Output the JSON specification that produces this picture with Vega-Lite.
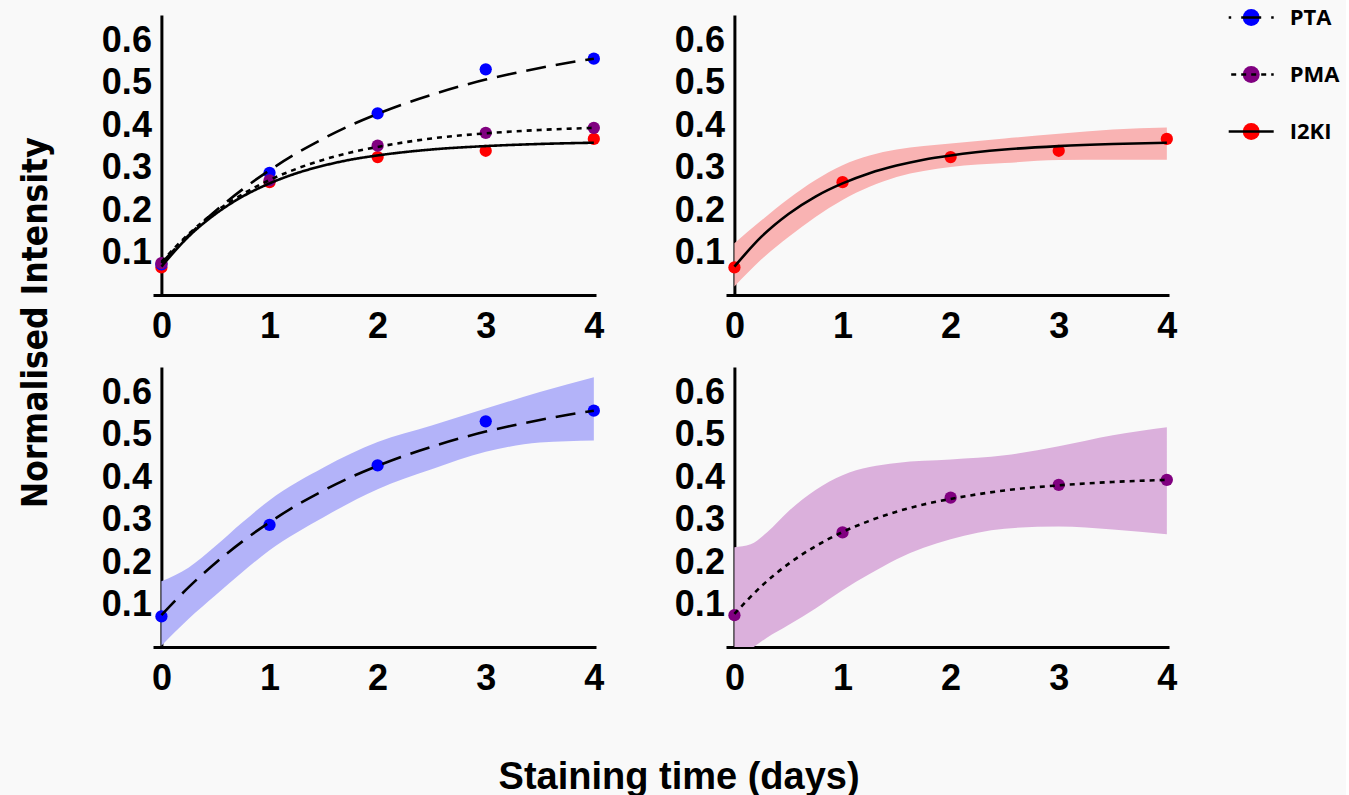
{
  "$schema": "https://vega.github.io/schema/vega-lite/v6.json",
  "background": "#f9f9f9",
  "padding": {"left": 18, "top": 6, "right": 5, "bottom": 0},
  "title": {"text": "Normalised Intensity", "orient": "left", "font": "DejaVu Sans Condensed", "fontSize": 35, "fontWeight": "bold", "color": "black", "offset": 47.5, "anchor": "middle", "dx": 79},
  "datasets": {
    "curves": [
      {"series": "PTA", "x": 0, "y": 0.075}, {"series": "PTA", "x": 0.25, "y": 0.1405}, {"series": "PTA", "x": 0.5, "y": 0.198}, {"series": "PTA", "x": 0.75, "y": 0.249},
      {"series": "PTA", "x": 1, "y": 0.294}, {"series": "PTA", "x": 1.25, "y": 0.334}, {"series": "PTA", "x": 1.5, "y": 0.369}, {"series": "PTA", "x": 1.75, "y": 0.4},
      {"series": "PTA", "x": 2, "y": 0.427}, {"series": "PTA", "x": 2.25, "y": 0.451}, {"series": "PTA", "x": 2.5, "y": 0.472}, {"series": "PTA", "x": 2.75, "y": 0.491},
      {"series": "PTA", "x": 3, "y": 0.508}, {"series": "PTA", "x": 3.25, "y": 0.522}, {"series": "PTA", "x": 3.5, "y": 0.535}, {"series": "PTA", "x": 3.75, "y": 0.547},
      {"series": "PTA", "x": 4, "y": 0.557},
      {"series": "PMA", "x": 0, "y": 0.078}, {"series": "PMA", "x": 0.25, "y": 0.1435}, {"series": "PMA", "x": 0.5, "y": 0.196}, {"series": "PMA", "x": 0.75, "y": 0.2375},
      {"series": "PMA", "x": 1, "y": 0.271}, {"series": "PMA", "x": 1.25, "y": 0.2975}, {"series": "PMA", "x": 1.5, "y": 0.319}, {"series": "PMA", "x": 1.75, "y": 0.336},
      {"series": "PMA", "x": 2, "y": 0.349}, {"series": "PMA", "x": 2.5, "y": 0.369}, {"series": "PMA", "x": 3, "y": 0.381}, {"series": "PMA", "x": 3.5, "y": 0.389},
      {"series": "PMA", "x": 4, "y": 0.394},
      {"series": "I2KI", "x": 0, "y": 0.067}, {"series": "I2KI", "x": 0.25, "y": 0.1375}, {"series": "I2KI", "x": 0.5, "y": 0.191}, {"series": "I2KI", "x": 0.75, "y": 0.232},
      {"series": "I2KI", "x": 1, "y": 0.263}, {"series": "I2KI", "x": 1.25, "y": 0.287}, {"series": "I2KI", "x": 1.5, "y": 0.305}, {"series": "I2KI", "x": 1.75, "y": 0.319},
      {"series": "I2KI", "x": 2, "y": 0.329}, {"series": "I2KI", "x": 2.5, "y": 0.343}, {"series": "I2KI", "x": 3, "y": 0.351}, {"series": "I2KI", "x": 3.5, "y": 0.356},
      {"series": "I2KI", "x": 4, "y": 0.359}
    ],
    "pts": [
      {"series": "I2KI", "x": 0, "y": 0.065}, {"series": "I2KI", "x": 1, "y": 0.266}, {"series": "I2KI", "x": 2, "y": 0.325}, {"series": "I2KI", "x": 3, "y": 0.34}, {"series": "I2KI", "x": 4, "y": 0.368},
      {"series": "PTA", "x": 0, "y": 0.072}, {"series": "PTA", "x": 1, "y": 0.288}, {"series": "PTA", "x": 2, "y": 0.428}, {"series": "PTA", "x": 3, "y": 0.532}, {"series": "PTA", "x": 4, "y": 0.557},
      {"series": "PMA", "x": 0, "y": 0.075}, {"series": "PMA", "x": 1, "y": 0.27}, {"series": "PMA", "x": 2, "y": 0.352}, {"series": "PMA", "x": 3, "y": 0.382}, {"series": "PMA", "x": 4, "y": 0.394}
    ],
    "bands": [
      {"series": "PTA", "x": 0, "lo": 0.003, "hi": 0.155}, {"series": "PTA", "x": 0.25, "lo": 0.066, "hi": 0.187}, {"series": "PTA", "x": 0.5, "lo": 0.122, "hi": 0.238},
      {"series": "PTA", "x": 0.75, "lo": 0.177, "hi": 0.294}, {"series": "PTA", "x": 1, "lo": 0.228, "hi": 0.346}, {"series": "PTA", "x": 1.5, "lo": 0.306, "hi": 0.423},
      {"series": "PTA", "x": 2, "lo": 0.372, "hi": 0.483}, {"series": "PTA", "x": 2.5, "lo": 0.419, "hi": 0.522}, {"series": "PTA", "x": 3, "lo": 0.46, "hi": 0.562},
      {"series": "PTA", "x": 3.5, "lo": 0.482, "hi": 0.601}, {"series": "PTA", "x": 4, "lo": 0.487, "hi": 0.636},
      {"series": "PMA", "x": 0, "lo": -0.03, "hi": 0.235}, {"series": "PMA", "x": 0.15, "lo": -0.005, "hi": 0.242}, {"series": "PMA", "x": 0.3, "lo": 0.022, "hi": 0.27},
      {"series": "PMA", "x": 0.5, "lo": 0.052, "hi": 0.32}, {"series": "PMA", "x": 0.75, "lo": 0.091, "hi": 0.37}, {"series": "PMA", "x": 1, "lo": 0.134, "hi": 0.405},
      {"series": "PMA", "x": 1.25, "lo": 0.172, "hi": 0.424}, {"series": "PMA", "x": 1.5, "lo": 0.207, "hi": 0.434}, {"series": "PMA", "x": 2, "lo": 0.254, "hi": 0.442},
      {"series": "PMA", "x": 2.5, "lo": 0.279, "hi": 0.452}, {"series": "PMA", "x": 3, "lo": 0.284, "hi": 0.473}, {"series": "PMA", "x": 3.5, "lo": 0.277, "hi": 0.499},
      {"series": "PMA", "x": 4, "lo": 0.266, "hi": 0.518},
      {"series": "I2KI", "x": 0, "lo": 0.02, "hi": 0.122}, {"series": "I2KI", "x": 0.25, "lo": 0.084, "hi": 0.176}, {"series": "I2KI", "x": 0.5, "lo": 0.137, "hi": 0.227},
      {"series": "I2KI", "x": 0.75, "lo": 0.184, "hi": 0.271}, {"series": "I2KI", "x": 1, "lo": 0.224, "hi": 0.306}, {"series": "I2KI", "x": 1.25, "lo": 0.255, "hi": 0.329},
      {"series": "I2KI", "x": 1.5, "lo": 0.278, "hi": 0.343}, {"series": "I2KI", "x": 2, "lo": 0.302, "hi": 0.357}, {"series": "I2KI", "x": 2.5, "lo": 0.311, "hi": 0.369},
      {"series": "I2KI", "x": 3, "lo": 0.318, "hi": 0.38}, {"series": "I2KI", "x": 3.5, "lo": 0.319, "hi": 0.39}, {"series": "I2KI", "x": 4, "lo": 0.319, "hi": 0.395}
    ]
  },
  "vconcat": [
    {
      "title": {"text": "Staining time (days)", "orient": "bottom", "font": "Liberation Sans", "fontSize": 38, "fontWeight": "bold", "color": "black", "offset": 63, "anchor": "middle", "dx": 40},
      "columns": 2,
      "spacing": {"row": 72, "column": 130},
      "bounds": "flush",
      "concat": [
        {
          "width": 443, "height": 280,
          "encoding": {
            "x": {"field": "x", "type": "quantitative", "scale": {"domain": [-0.078, 4.02], "nice": false, "zero": false}, "axis": {"values": [0, 1, 2, 3, 4], "format": "d", "title": null}}
          },
          "layer": [
            {
              "data": {"name": "pts"},
              "mark": {"type": "circle", "size": 150, "opacity": 1},
              "encoding": {
                "y": {"field": "y", "type": "quantitative", "scale": {"domain": [0, 0.66], "nice": false}, "axis": {"values": [0.1, 0.2, 0.3, 0.4, 0.5, 0.6], "format": ".1f", "title": null, "offset": -8.4}},
                "color": {"field": "series", "type": "nominal", "scale": {"domain": ["PTA", "PMA", "I2KI", "-"], "range": ["#0000ff", "#800080", "#ff0000", "#000000"]},
                  "legend": {"values": ["PTA", "PMA", "I2KI"], "orient": "none", "legendX": 1087.2, "legendY": -8.5, "title": null, "padding": 0, "symbolType": "circle", "symbolSize": 289, "symbolStrokeWidth": 0, "symbolOpacity": 1, "labelFont": "Open Sans", "labelFontSize": 22, "labelFontWeight": "bold", "labelOpacity": 0, "labelOffset": 27.5, "rowPadding": 35, "zindex": 1}}
              }
            },
            {
              "data": {"name": "curves"},
              "mark": {"type": "line", "interpolate": "monotone", "strokeWidth": 2.6, "color": "black"},
              "encoding": {
                "y": {"field": "y", "type": "quantitative", "scale": {"domain": [0, 0.66], "nice": false}, "axis": {"values": [0.1, 0.2, 0.3, 0.4, 0.5, 0.6], "format": ".1f", "title": null, "offset": -8.4}},
                "strokeDash": {"field": "series", "type": "nominal", "scale": {"domain": ["PTA", "PMA", "I2KI"], "range": [[20, 10], [5, 5], [1, 0]]},
                  "legend": {"orient": "none", "legendX": 1087.2, "legendY": -8.5, "title": null, "padding": 0, "symbolType": "M-3,0L3,0", "symbolSize": 225, "symbolStrokeColor": "black", "symbolFillColor": "transparent", "symbolStrokeWidth": 2.5, "symbolDashOffset": 17.5, "labelFont": "Open Sans", "labelFontSize": 22, "labelFontWeight": "bold", "labelColor": "black", "labelOffset": 27.5, "rowPadding": 35, "zindex": 2}}
              }
            }
          ]
        },
        {
          "width": 443, "height": 280,
          "encoding": {
            "x": {"field": "x", "type": "quantitative", "scale": {"domain": [-0.078, 4.02], "nice": false, "zero": false}, "axis": {"values": [0, 1, 2, 3, 4], "format": "d", "title": null}}
          },
          "layer": [
            {
              "data": {"name": "bands"},
              "transform": [{"filter": {"field": "series", "equal": "I2KI"}}],
              "mark": {"type": "area", "interpolate": "monotone", "color": "#f9b3b3", "clip": true},
              "encoding": {
                "y": {"field": "hi", "type": "quantitative", "scale": {"domain": [0, 0.66], "nice": false}, "axis": {"values": [0.1, 0.2, 0.3, 0.4, 0.5, 0.6], "format": ".1f", "title": null, "offset": -8.4}},
                "y2": {"field": "lo"}
              }
            },
            {
              "data": {"name": "pts"},
              "transform": [{"filter": {"field": "series", "equal": "I2KI"}}],
              "mark": {"type": "circle", "size": 150, "opacity": 1, "color": "#ff0000"},
              "encoding": {"y": {"field": "y", "type": "quantitative", "scale": {"domain": [0, 0.66], "nice": false}, "axis": {"values": [0.1, 0.2, 0.3, 0.4, 0.5, 0.6], "format": ".1f", "title": null, "offset": -8.4}}}
            },
            {
              "data": {"name": "curves"},
              "transform": [{"filter": {"field": "series", "equal": "I2KI"}}],
              "mark": {"type": "line", "interpolate": "monotone", "strokeWidth": 2.6, "color": "black"},
              "encoding": {"y": {"field": "y", "type": "quantitative", "scale": {"domain": [0, 0.66], "nice": false}, "axis": {"values": [0.1, 0.2, 0.3, 0.4, 0.5, 0.6], "format": ".1f", "title": null, "offset": -8.4}}}
            }
          ]
        },
        {
          "width": 443, "height": 280,
          "encoding": {
            "x": {"field": "x", "type": "quantitative", "scale": {"domain": [-0.078, 4.02], "nice": false, "zero": false}, "axis": {"values": [0, 1, 2, 3, 4], "format": "d", "title": null}}
          },
          "layer": [
            {
              "data": {"name": "bands"},
              "transform": [{"filter": {"field": "series", "equal": "PTA"}}],
              "mark": {"type": "area", "interpolate": "monotone", "color": "#b3b3f9", "clip": true},
              "encoding": {
                "y": {"field": "hi", "type": "quantitative", "scale": {"domain": [0, 0.66], "nice": false}, "axis": {"values": [0.1, 0.2, 0.3, 0.4, 0.5, 0.6], "format": ".1f", "title": null, "offset": -8.4}},
                "y2": {"field": "lo"}
              }
            },
            {
              "data": {"name": "pts"},
              "transform": [{"filter": {"field": "series", "equal": "PTA"}}],
              "mark": {"type": "circle", "size": 150, "opacity": 1, "color": "#0000ff"},
              "encoding": {"y": {"field": "y", "type": "quantitative", "scale": {"domain": [0, 0.66], "nice": false}, "axis": {"values": [0.1, 0.2, 0.3, 0.4, 0.5, 0.6], "format": ".1f", "title": null, "offset": -8.4}}}
            },
            {
              "data": {"name": "curves"},
              "transform": [{"filter": {"field": "series", "equal": "PTA"}}],
              "mark": {"type": "line", "interpolate": "monotone", "strokeWidth": 2.6, "color": "black", "strokeDash": [20, 10]},
              "encoding": {"y": {"field": "y", "type": "quantitative", "scale": {"domain": [0, 0.66], "nice": false}, "axis": {"values": [0.1, 0.2, 0.3, 0.4, 0.5, 0.6], "format": ".1f", "title": null, "offset": -8.4}}}
            }
          ]
        },
        {
          "width": 443, "height": 280,
          "encoding": {
            "x": {"field": "x", "type": "quantitative", "scale": {"domain": [-0.078, 4.02], "nice": false, "zero": false}, "axis": {"values": [0, 1, 2, 3, 4], "format": "d", "title": null}}
          },
          "layer": [
            {
              "data": {"name": "bands"},
              "transform": [{"filter": {"field": "series", "equal": "PMA"}}],
              "mark": {"type": "area", "interpolate": "monotone", "color": "#dbb0dc", "clip": true},
              "encoding": {
                "y": {"field": "hi", "type": "quantitative", "scale": {"domain": [0, 0.66], "nice": false}, "axis": {"values": [0.1, 0.2, 0.3, 0.4, 0.5, 0.6], "format": ".1f", "title": null, "offset": -8.4}},
                "y2": {"field": "lo"}
              }
            },
            {
              "data": {"name": "pts"},
              "transform": [{"filter": {"field": "series", "equal": "PMA"}}],
              "mark": {"type": "circle", "size": 150, "opacity": 1, "color": "#800080"},
              "encoding": {"y": {"field": "y", "type": "quantitative", "scale": {"domain": [0, 0.66], "nice": false}, "axis": {"values": [0.1, 0.2, 0.3, 0.4, 0.5, 0.6], "format": ".1f", "title": null, "offset": -8.4}}}
            },
            {
              "data": {"name": "curves"},
              "transform": [{"filter": {"field": "series", "equal": "PMA"}}],
              "mark": {"type": "line", "interpolate": "monotone", "strokeWidth": 2.6, "color": "black", "strokeDash": [5, 5]},
              "encoding": {"y": {"field": "y", "type": "quantitative", "scale": {"domain": [0, 0.66], "nice": false}, "axis": {"values": [0.1, 0.2, 0.3, 0.4, 0.5, 0.6], "format": ".1f", "title": null, "offset": -8.4}}}
            }
          ]
        }
      ]
    }
  ],
  "config": {
    "view": {"stroke": null},
    "axis": {"domainColor": "black", "domainWidth": 3, "ticks": false, "tickSize": 0, "grid": false, "labelFont": "Liberation Sans", "labelFontSize": 36, "labelFontWeight": "bold", "labelColor": "black"},
    "axisX": {"labelPadding": 14},
    "axisY": {"labelPadding": 10}
  }
}
